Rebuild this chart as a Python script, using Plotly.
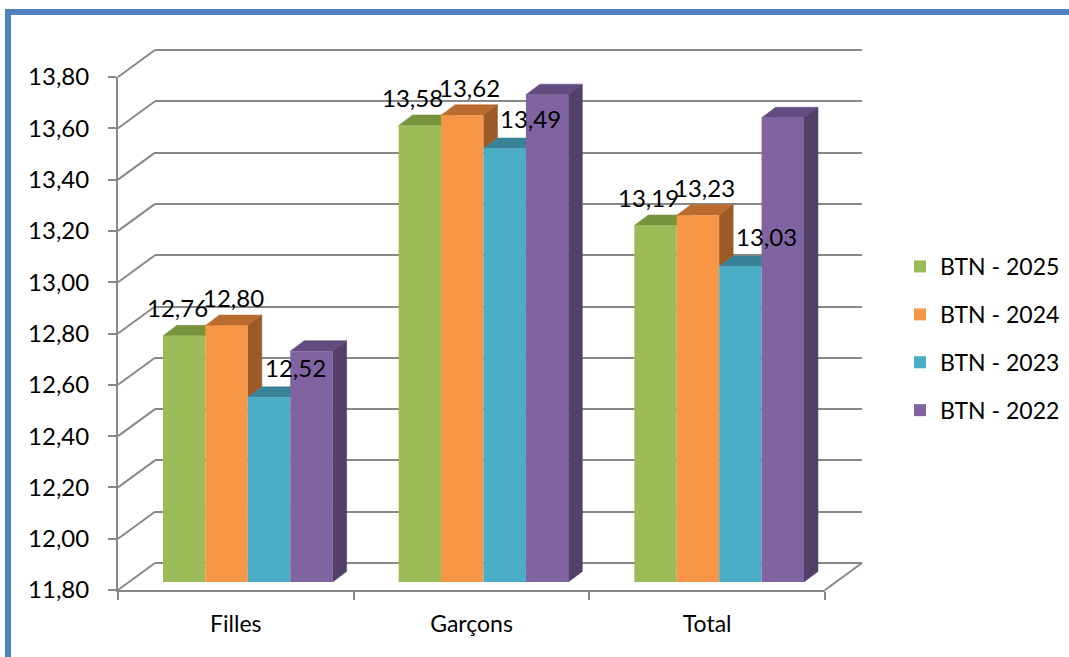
import plotly.graph_objects as go

# ---------------- data ----------------
categories = ["Filles", "Garçons", "Total"]
series_names = ["BTN - 2025", "BTN - 2024", "BTN - 2023", "BTN - 2022"]
values_2025 = [12.76, 13.58, 13.19]
values_2024 = [12.80, 13.62, 13.23]
values_2023 = [12.52, 13.49, 13.03]
values_2022 = [12.70, 13.70, 13.61]
y_tick_values = [11.8, 12.0, 12.2, 12.4, 12.6, 12.8, 13.0, 13.2, 13.4, 13.6, 13.8]
labelled_series = [True, True, True, False]

# ---------------- styles ----------------
FONT = "Lato"
front_colors = ["#9BBB59", "#F79646", "#4BACC6", "#8064A2"]
top_colors = ["#77933C", "#BA6C30", "#388398", "#624C80"]
side_colors = ["#62792F", "#9C5A27", "#2E6E80", "#524069"]
label_shift = [(-7, 28), (7, 28), (26, 30), (0, 0)]
GRID = "#888888"
W, H = 1069, 657
OFF = 0            # page px = figure px + OFF (body margin removed below)
Y_MIN, Y_MAX = 11.8, 13.8
BARGAP = 0.28

series_values = [values_2025, values_2024, values_2023, values_2022]
n_series = len(series_values)
bar_w = (1 - BARGAP) / n_series

# geometry of the oblique 3D look, in screen pixels
back_px = (155, 862, 563, 50)     # x0, x1, y_bottom, y_top
front_px = (118, 825, 590, 77)
bar_px = (130, 837, 582, 69)
depth_px = (14, 10.5)             # bar depth (right, up)
unit_px = (front_px[2] - front_px[3]) / (Y_MAX - Y_MIN)
EXT = 0.1                         # range padding for back-wall grid


def px_x(p):
    return (p - OFF) / W


def px_y(p):
    return (H - (p - OFF)) / H


def dom_x(a, b):
    return [px_x(a), px_x(b)]


def dom_y(bottom, top):
    return [px_y(bottom), px_y(top)]


cat_px = (bar_px[1] - bar_px[0]) / len(categories)
ddx = depth_px[0] / cat_px
ddy = depth_px[1] / unit_px

fig = go.Figure()

# invisible anchor traces so the wall/front axes are drawn
fig.add_trace(go.Scatter(x=[None], y=[None], xaxis="x2", yaxis="y2", mode="markers",
                         showlegend=False, hoverinfo="skip"))
fig.add_trace(go.Scatter(x=[None], y=[None], xaxis="x", yaxis="y", mode="markers",
                         showlegend=False, hoverinfo="skip"))

# ---- 3D faces (top and side) drawn under the front faces ----
for k, vals in enumerate(series_values):
    tx, ty, sx, sy = [], [], [], []
    for i, v in enumerate(vals):
        s = i - (1 - BARGAP) / 2 + bar_w * k
        e = s + bar_w
        tx += [s, e, e + ddx, s + ddx, s, None]
        ty += [v, v, v + ddy, v + ddy, v, None]
        low = Y_MIN if k == n_series - 1 else series_values[k + 1][i]
        if v > low:
            sx += [e, e, e + ddx, e + ddx, e, None]
            sy += [low, v, v + ddy, low + ddy, low, None]
    fig.add_trace(go.Scatter(x=tx, y=ty, xaxis="x3", yaxis="y3", mode="lines",
                             fill="toself", fillcolor=top_colors[k],
                             line=dict(color=top_colors[k], width=0.5),
                             hoverinfo="skip", showlegend=False))
    if sx:
        fig.add_trace(go.Scatter(x=sx, y=sy, xaxis="x3", yaxis="y3", mode="lines",
                                 fill="toself", fillcolor=side_colors[k],
                                 line=dict(color=side_colors[k], width=0.5),
                                 hoverinfo="skip", showlegend=False))

# ---- front faces: real bars ----
for k, vals in enumerate(series_values):
    fig.add_trace(go.Bar(x=categories, y=vals, name=series_names[k],
                         legendgroup=series_names[k],
                         marker=dict(color=front_colors[k], line=dict(width=0)),
                         xaxis="x4", yaxis="y3"))

# ---- data labels ----
annotations = []
for k, vals in enumerate(series_values):
    if not labelled_series[k]:
        continue
    for i, v in enumerate(vals):
        c = i - (1 - BARGAP) / 2 + bar_w * (k + 0.5)
        annotations.append(dict(x=c, y=v, xref="x3", yref="y3",
                                text=f"{v:.2f}".replace(".", ","),
                                showarrow=False, xanchor="center", yanchor="middle",
                                xshift=label_shift[k][0], yshift=label_shift[k][1],
                                font=dict(family=FONT, size=24, color="#000000")))

# ---- walls: side-wall diagonals and floor right edge ----
shapes = []
for t in y_tick_values:
    yf = front_px[2] - (t - Y_MIN) * unit_px
    yb = back_px[2] - (t - Y_MIN) * unit_px
    shapes.append(dict(type="line", xref="paper", yref="paper", layer="below",
                       x0=px_x(front_px[0]), y0=px_y(yf), x1=px_x(back_px[0]), y1=px_y(yb),
                       line=dict(color=GRID, width=2)))
shapes.append(dict(type="line", xref="paper", yref="paper", layer="below",
                   x0=px_x(front_px[1]), y0=px_y(front_px[2]),
                   x1=px_x(back_px[1]), y1=px_y(back_px[2]),
                   line=dict(color=GRID, width=2)))
# outer blue frame
shapes.append(dict(type="rect", xref="paper", yref="paper",
                   x0=px_x(8), x1=1.2, y0=-0.2, y1=px_y(12),
                   line=dict(color="#4F81BD", width=6), layer="above"))

hidden = dict(showgrid=False, zeroline=False, showline=False, showticklabels=False,
              ticks="", automargin=False)
pad = EXT * unit_px

fig.update_layout(
    width=W, height=H,
    margin=dict(l=0, r=0, t=0, b=0, autoexpand=False),
    paper_bgcolor="white", plot_bgcolor="rgba(0,0,0,0)",
    separators=", ",
    barmode="group", bargap=BARGAP, bargroupgap=0,
    font=dict(family=FONT, size=24, color="#000000"),
    # back wall (gridlines)
    xaxis=dict(domain=dom_x(back_px[0], back_px[1]), range=[0, 1], anchor="y", **hidden),
    yaxis=dict(domain=dom_y(back_px[2] + pad, back_px[3] - pad),
               range=[Y_MIN - EXT, Y_MAX + EXT], anchor="x", automargin=False,
               tickvals=y_tick_values, showgrid=True, gridcolor=GRID, gridwidth=2,
               zeroline=False, showline=False, showticklabels=False, ticks=""),
    # front axes (labels, ticks, floor edge)
    xaxis2=dict(domain=dom_x(front_px[0], front_px[1]), range=[-0.5, 2.5], anchor="y2",
                tickvals=[0, 1, 2], ticktext=categories, ticks="", automargin=False,
                showgrid=False, zeroline=False, showline=True, linecolor=GRID, linewidth=2,
                ticklabelstandoff=12,
                minor=dict(tickvals=[-0.5, 0.5, 1.5, 2.5], ticks="outside", ticklen=8,
                           tickcolor=GRID, tickwidth=2, showgrid=False),
                tickfont=dict(family=FONT, size=23, color="#000000")),
    yaxis2=dict(domain=dom_y(front_px[2], front_px[3]), range=[Y_MIN, Y_MAX], anchor="x2",
                tickvals=y_tick_values, tickformat=".2f", ticks="outside", ticklen=8,
                tickcolor=GRID, tickwidth=2, showgrid=False, zeroline=False, automargin=False,
                showline=True, linecolor=GRID, linewidth=2, ticklabelstandoff=14,
                tickfont=dict(family=FONT, size=24, color="#000000")),
    # bar plane
    xaxis3=dict(domain=dom_x(bar_px[0], bar_px[1]), range=[-0.5, 2.5], anchor="y3", **hidden),
    yaxis3=dict(domain=dom_y(bar_px[2], bar_px[3]), range=[Y_MIN, Y_MAX], anchor="x3", **hidden),
    xaxis4=dict(overlaying="x3", type="category", categoryorder="array",
                categoryarray=categories, range=[-0.5, 2.5], anchor="y3", **hidden),
    legend=dict(x=px_x(900), y=px_y(338.5), xanchor="left", yanchor="middle",
                font=dict(family=FONT, size=23, color="#000000"),
                tracegroupgap=15, bgcolor="rgba(0,0,0,0)", traceorder="grouped"),
    annotations=annotations,
    shapes=shapes,
    showlegend=True,
)

fig.write_html("out.html",
               config={"displayModeBar": False},
               post_script="document.body.style.margin='0';"
                           "document.body.style.overflow='hidden';")
